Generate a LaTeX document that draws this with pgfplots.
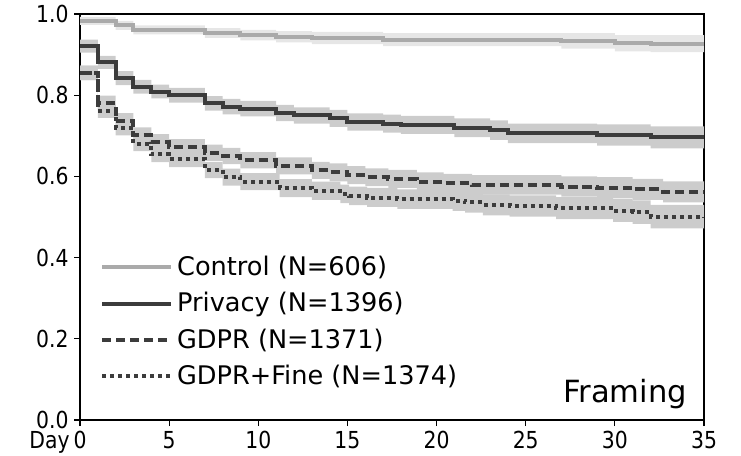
\documentclass[border=0pt]{standalone}
\usepackage{fontspec}
\setmainfont{DejaVu Sans}
\newfontfamily\tickfont{DejaVu Sans}[FakeStretch=0.87]
\usepackage{pgfplots}
\pgfplotsset{compat=1.18}
\usepackage{pgfplotstable}
\usepgfplotslibrary{fillbetween}
\usetikzlibrary{calc}

\definecolor{ctrlline}{HTML}{AAAAAA}
\definecolor{ctrlband}{HTML}{E6E6E6}
\definecolor{darkline}{HTML}{3C3C3C}
\definecolor{band}{HTML}{CCCCCC}

% day, survival, lower, upper
\pgfplotstableread{
t     y      lo     hi
0     0.983  0.973  0.993
2     0.972  0.961  0.983
3     0.961  0.950  0.972
7     0.953  0.941  0.965
9     0.948  0.935  0.961
11    0.944  0.930  0.958
13    0.941  0.926  0.956
17    0.937  0.921  0.953
27    0.934  0.915  0.953
30    0.928  0.908  0.948
32    0.927  0.906  0.948
35    0.927  0.905  0.949
}\control

\pgfplotstableread{
t     y      lo     hi
0     0.921  0.905  0.937
1     0.881  0.865  0.897
2     0.842  0.825  0.859
3     0.821  0.804  0.838
4     0.809  0.792  0.826
5     0.800  0.782  0.818
7     0.780  0.762  0.798
8     0.772  0.753  0.791
9     0.767  0.748  0.786
11    0.756  0.736  0.776
12    0.750  0.730  0.770
14    0.743  0.722  0.764
15    0.734  0.713  0.755
17    0.730  0.708  0.752
18    0.727  0.705  0.749
21    0.720  0.697  0.743
23    0.714  0.690  0.738
24    0.706  0.682  0.730
29    0.702  0.676  0.728
32    0.696  0.669  0.723
35    0.696  0.668  0.724
}\privacy

\pgfplotstableread{
t     y      lo     hi
0     0.855  0.837  0.873
1     0.781  0.763  0.799
2     0.737  0.719  0.756
3     0.702  0.683  0.721
4     0.685  0.666  0.704
5     0.673  0.654  0.692
7     0.658  0.638  0.678
8     0.650  0.630  0.670
9     0.640  0.620  0.660
11    0.626  0.605  0.647
13    0.615  0.594  0.636
14    0.610  0.588  0.632
15    0.603  0.581  0.625
16    0.598  0.576  0.620
17.3  0.594  0.572  0.616
18.9  0.587  0.564  0.610
20.4  0.583  0.560  0.606
22    0.579  0.555  0.603
27    0.575  0.550  0.600
29    0.572  0.546  0.598
31    0.568  0.542  0.594
32.7  0.562  0.536  0.588
35    0.562  0.535  0.589
}\gdpr

\pgfplotstableread{
t     y      lo     hi
0     0.855  0.837  0.873
1     0.762  0.744  0.780
2     0.720  0.701  0.739
3     0.681  0.662  0.700
4     0.654  0.635  0.673
5     0.643  0.623  0.663
7     0.616  0.596  0.636
8     0.598  0.577  0.619
9     0.587  0.566  0.608
11.2  0.571  0.549  0.593
13    0.564  0.542  0.587
14.6  0.557  0.534  0.580
15.1  0.552  0.529  0.575
16.1  0.548  0.525  0.572
17.8  0.544  0.520  0.568
20.9  0.540  0.515  0.565
21.6  0.536  0.511  0.561
22.6  0.530  0.504  0.556
24.1  0.527  0.501  0.553
26.7  0.522  0.495  0.549
29.9  0.516  0.488  0.544
31    0.512  0.483  0.541
32    0.501  0.472  0.530
35    0.500  0.470  0.530
}\fine

\begin{document}
\begin{tikzpicture}
  \begin{axis}[
    scale only axis,
    width=312pt, height=203pt,
    xmin=0, xmax=35, ymin=0, ymax=1,
    clip mode=individual,
    xtick={0,5,...,35},
    ytick={0,0.2,...,1.0},
    yticklabel style={inner xsep=2.5pt, inner ysep=0pt, /pgf/number format/.cd, fixed, fixed zerofill, precision=1},
    xticklabel style={inner sep=2.5pt},
    /pgf/number format/assume math mode=true,
    tick align=outside,
    tick pos=left,
    major tick length=3pt,
    tick style={black, line width=0.6pt},
    axis line style={line width=0.6pt},
    ticklabel style={font=\tickfont\fontsize{11.7}{14}\selectfont},
    legend style={at={(axis description cs:0.022,0.425)}, anchor=north west,
      draw=none, fill=none, font=\fontsize{12.8}{15}\selectfont,
      row sep=3pt},
    legend cell align=left,
    legend image code/.code={\draw[#1] (0pt,0pt) -- (28pt,0pt); \path (0pt,0pt) -- (34.5pt,0pt);},
    const plot,
  ]
    % confidence bands
    \addplot[draw=none, name path=cH, forget plot] table[x=t, y=hi] {\control};
    \addplot[draw=none, name path=cL, forget plot] table[x=t, y=lo] {\control};
    \addplot[ctrlband, forget plot] fill between[of=cH and cL];
    \addplot[draw=none, name path=pH, forget plot] table[x=t, y=hi] {\privacy};
    \addplot[draw=none, name path=pL, forget plot] table[x=t, y=lo] {\privacy};
    \addplot[band, forget plot] fill between[of=pH and pL];
    \addplot[draw=none, name path=gH, forget plot] table[x=t, y=hi] {\gdpr};
    \addplot[draw=none, name path=gL, forget plot] table[x=t, y=lo] {\gdpr};
    \addplot[band, forget plot] fill between[of=gH and gL];
    \addplot[draw=none, name path=fH, forget plot] table[x=t, y=hi] {\fine};
    \addplot[draw=none, name path=fL, forget plot] table[x=t, y=lo] {\fine};
    \addplot[band, forget plot] fill between[of=fH and fL];
    % survival curves
    \addplot[ctrlline, line width=2pt] table[x=t, y=y] {\control};
    \addlegendentry{Control (N=606)}
    \addplot[darkline, line width=2pt] table[x=t, y=y] {\privacy};
    \addlegendentry{Privacy (N=1396)}
    \addplot[darkline, line width=2pt, dash pattern=on 4.6pt off 2.4pt] table[x=t, y=y] {\gdpr};
    \addlegendentry{GDPR (N=1371)}
    \addplot[darkline, line width=2pt, dash pattern=on 2pt off 2pt] table[x=t, y=y] {\fine};
    \addlegendentry{GDPR+Fine (N=1374)}
    \node[anchor=south east, font=\fontsize{15.3}{18}\selectfont] at ($(rel axis cs:1,0)+(-5pt,2pt)$) {Framing};
    \node[anchor=north east, font=\tickfont\fontsize{11.7}{14}\selectfont, inner sep=0pt] at ($(rel axis cs:0,0)+(-5pt,-5.5pt)$) {Day};
  \end{axis}
  \path ($(current axis.south west)+(-40pt,-17.5pt)$) rectangle ($(current axis.north east)+(18.5pt,7pt)$);
\end{tikzpicture}
\end{document}
